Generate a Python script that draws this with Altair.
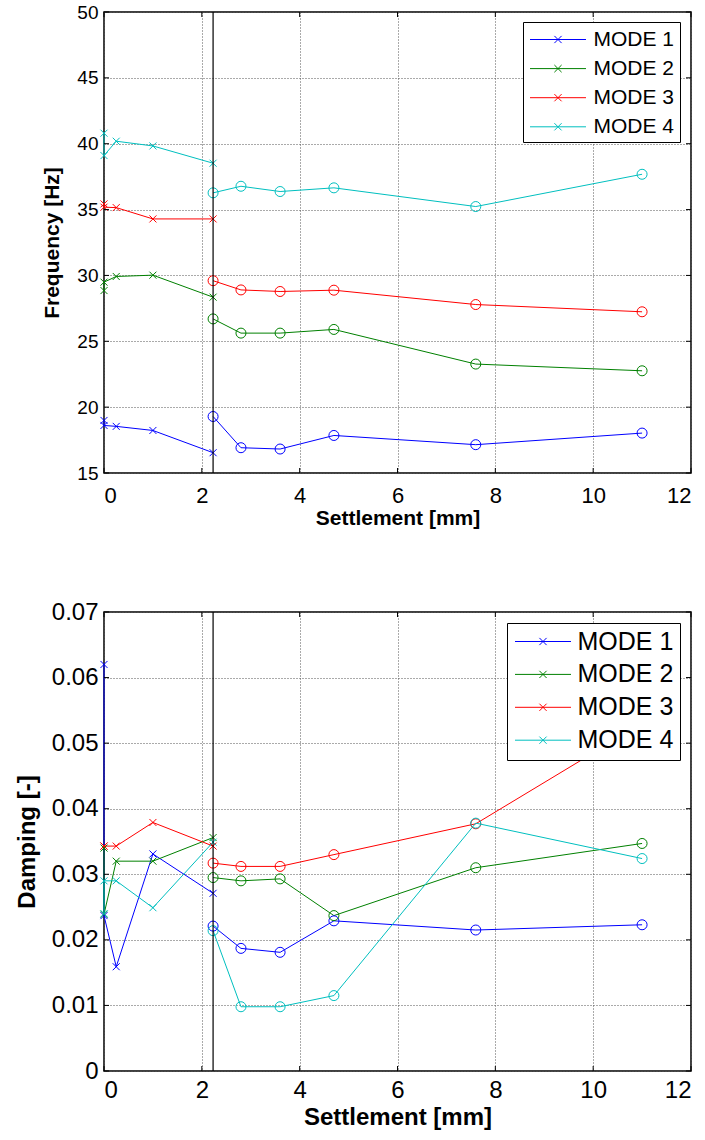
import altair as alt
import pandas as pd

modes = ["MODE 1", "MODE 2", "MODE 3", "MODE 4"]
mode_colors = ["#0000FF", "#008000", "#FF0000", "#00BFBF"]

settle_pre = [0.0, 0.0, 0.25, 1.0, 2.23]
settle_post = [2.23, 2.8, 3.6, 4.7, 7.6, 11.0]
jump_x = [2.23]

x_ticks = [0, 2, 4, 6, 8, 10, 12]
freq_ticks = [15, 20, 25, 30, 35, 40, 45, 50]
damp_ticks = [0, 0.01, 0.02, 0.03, 0.04, 0.05, 0.06, 0.07]

# Frequency [Hz]
freq_pre_m1 = [18.99, 18.61, 18.54, 18.23, 16.54]
freq_pre_m2 = [28.85, 29.49, 29.92, 30.02, 28.35]
freq_pre_m3 = [35.43, 35.18, 35.15, 34.29, 34.29]
freq_pre_m4 = [40.80, 39.10, 40.19, 39.83, 38.52]
freq_post_m1 = [19.29, 16.92, 16.82, 17.85, 17.15, 18.03]
freq_post_m2 = [26.70, 25.62, 25.62, 25.90, 23.27, 22.76]
freq_post_m3 = [29.60, 28.90, 28.78, 28.88, 27.79, 27.24]
freq_post_m4 = [36.27, 36.77, 36.37, 36.65, 35.23, 37.68]

# Damping [-]
damp_pre_m1 = [0.0620, 0.0237, 0.0159, 0.0331, 0.0271]
damp_pre_m2 = [0.0340, 0.0239, 0.0320, 0.0320, 0.0356]
damp_pre_m3 = [0.0343, 0.0343, 0.0343, 0.0379, 0.0343]
damp_pre_m4 = [0.0240, 0.0290, 0.0290, 0.0249, 0.0349]
damp_post_m1 = [0.0221, 0.0187, 0.0181, 0.0229, 0.0215, 0.0223]
damp_post_m2 = [0.0295, 0.0290, 0.0293, 0.0237, 0.0310, 0.0347]
damp_post_m3 = [0.0317, 0.0312, 0.0312, 0.0330, 0.0377, 0.0530]
damp_post_m4 = [0.0214, 0.0098, 0.0098, 0.0115, 0.0378, 0.0324]

FONT = "Liberation Sans"
XPATH = "M-1,-1L1,1M-1,1L1,-1"
LEGPATH = "M-2.333,0H2.333M-0.3,-0.3L0.3,0.3M-0.3,0.3L0.3,-0.3"
W = 587


def build(pre, post):
    rows = []
    for m, ys in zip(modes, pre):
        for i, (x, y) in enumerate(zip(settle_pre, ys)):
            rows.append(dict(mode=m, seg="pre", key=m + " pre", idx=i, x=x, y=y))
    for m, ys in zip(modes, post):
        for i, (x, y) in enumerate(zip(settle_post, ys)):
            rows.append(dict(mode=m, seg="post", key=m + " post", idx=i, x=x, y=y))
    return pd.DataFrame(rows)


def panel(df, H, ydom, yticks, ytitle, yfmt, fs_xlab, fs_ylab, fs_title, fs_leg,
          row_pad, legx, legy, leg_pad, lab_off, ytitle_pad, xlab_pad, xtitle_pad):
    xs = alt.Scale(domain=[0, 12], nice=False, zero=False)
    ys = alt.Scale(domain=ydom, nice=False, zero=False)
    xax = alt.Axis(values=x_ticks, title="Settlement [mm]", labelFontSize=fs_xlab,
                   labelFont=FONT, titleFont=FONT, titleFontSize=fs_title,
                   titleFontWeight="bold", labelPadding=xlab_pad, titlePadding=xtitle_pad,
                   grid=True, gridDash=[1, 2], gridColor="#555", ticks=False,
                   domain=False, labelColor="black", titleColor="black", format="d")
    yax = alt.Axis(values=yticks, title=ytitle, labelFontSize=fs_ylab, labelFont=FONT,
                   titleFont=FONT, titleFontSize=fs_title, titleFontWeight="bold",
                   labelPadding=6, titlePadding=ytitle_pad, grid=True, gridDash=[1, 2],
                   gridColor="#555", ticks=False, domain=False, format=yfmt,
                   labelColor="black", titleColor="black")
    color = alt.Color("mode:N", scale=alt.Scale(domain=modes, range=mode_colors),
                      legend=alt.Legend(title=None, orient="none", legendX=legx, legendY=legy,
                                        symbolType=LEGPATH, symbolSize=576,
                                        symbolStrokeWidth=1, symbolOffset=17.5,
                                        labelOffset=lab_off, labelFont=FONT,
                                        labelFontSize=fs_leg, labelColor="black",
                                        rowPadding=row_pad, padding=leg_pad,
                                        fillColor="white", strokeColor="black"))
    base = alt.Chart(df)
    lines = base.mark_line(strokeWidth=1).encode(
        x=alt.X("x:Q", scale=xs, axis=xax),
        y=alt.Y("y:Q", scale=ys, axis=yax),
        color=color, detail="key:N", order="idx:Q")
    crosses = base.transform_filter(alt.datum.seg == "pre").mark_point(
        shape=XPATH, filled=False, size=49, strokeWidth=1, opacity=1).encode(
        x=alt.X("x:Q", scale=xs), y=alt.Y("y:Q", scale=ys),
        color=alt.Color("mode:N", scale=alt.Scale(domain=modes, range=mode_colors), legend=None))
    circles = base.transform_filter(alt.datum.seg == "post").mark_point(
        shape="circle", filled=False, size=100, strokeWidth=1, opacity=1).encode(
        x=alt.X("x:Q", scale=xs), y=alt.Y("y:Q", scale=ys),
        color=alt.Color("mode:N", scale=alt.Scale(domain=modes, range=mode_colors), legend=None))
    jump = alt.Chart(pd.DataFrame({"x": jump_x})).mark_rule(color="black", strokeWidth=1.2).encode(
        x=alt.X("x:Q", scale=xs))
    xt = pd.DataFrame({"x": x_ticks})
    yt = pd.DataFrame({"y": yticks})
    tb = alt.Chart(xt).mark_rule(color="black", strokeWidth=1).encode(
        x=alt.X("x:Q", scale=xs), y=alt.value(H), y2=alt.value(H - 5))
    tt = alt.Chart(xt).mark_rule(color="black", strokeWidth=1).encode(
        x=alt.X("x:Q", scale=xs), y=alt.value(0), y2=alt.value(5))
    tl = alt.Chart(yt).mark_rule(color="black", strokeWidth=1).encode(
        y=alt.Y("y:Q", scale=ys), x=alt.value(0), x2=alt.value(5))
    tr = alt.Chart(yt).mark_rule(color="black", strokeWidth=1).encode(
        y=alt.Y("y:Q", scale=ys), x=alt.value(W - 5), x2=alt.value(W))
    return alt.layer(lines, crosses, circles, jump, tb, tt, tl, tr).properties(width=W, height=H)


df_f = build([freq_pre_m1, freq_pre_m2, freq_pre_m3, freq_pre_m4],
             [freq_post_m1, freq_post_m2, freq_post_m3, freq_post_m4])
df_d = build([damp_pre_m1, damp_pre_m2, damp_pre_m3, damp_pre_m4],
             [damp_post_m1, damp_post_m2, damp_post_m3, damp_post_m4])

top = panel(df_f, 461, [15, 50], freq_ticks, "Frequency [Hz]", "d", 22, 19, 21, 21,
            6.1, 419, 10, 5, 23, 14, 12, 1)
bottom = panel(df_d, 459, [0, 0.07], damp_ticks, "Damping [-]", ".2~f", 24, 24, 24, 25,
               6.9, 403, 11, 6, 22, 12, 7, 3)

chart = alt.vconcat(top, bottom, spacing=139, bounds="flush").properties(
    padding={"left": 14, "top": 2, "right": 3, "bottom": 5},
    background="white"
).configure_view(stroke="black", strokeWidth=1.5).resolve_scale(color="independent")

chart.save("out.html", embed_options={"renderer": "svg", "actions": False})
